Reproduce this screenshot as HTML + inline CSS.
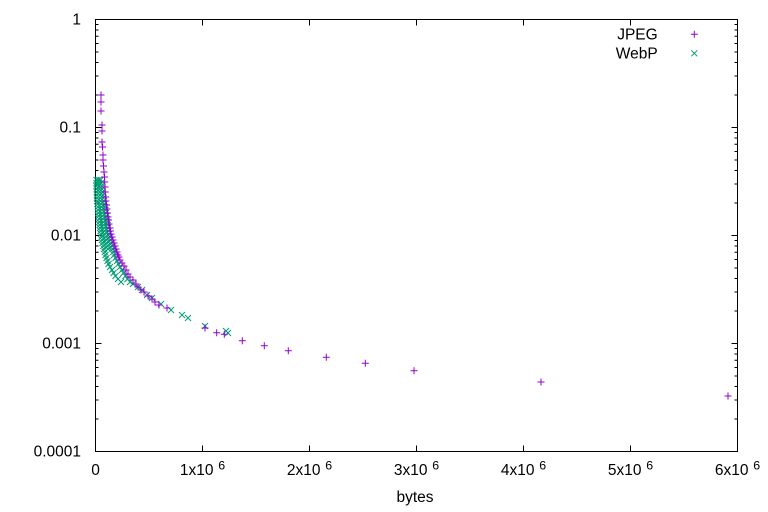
<!DOCTYPE html>
<html><head><meta charset="utf-8"><style>
html,body{margin:0;padding:0;background:#fff;}
svg{display:block;}
text{font-family:"Liberation Sans",Arial,sans-serif;font-size:15.5px;fill:#000;}
</style></head><body>
<svg width="768" height="512" viewBox="0 0 768 512" xmlns="http://www.w3.org/2000/svg">
<defs>
<marker id="mp" markerUnits="userSpaceOnUse" markerWidth="10" markerHeight="10" refX="5" refY="5" overflow="visible">
<path d="M1.5 5h7M5 1.5v7" stroke="#9400d3" stroke-width="1" fill="none"/>
</marker>
<marker id="mx" markerUnits="userSpaceOnUse" markerWidth="10" markerHeight="10" refX="5" refY="5" overflow="visible">
<path d="M2 2l6 6M2 8l6 -6" stroke="#009e73" stroke-width="1" fill="none"/>
</marker>
</defs>
<rect width="768" height="512" fill="#fff"/>
<!-- ticks -->
<g stroke="#000" stroke-width="1" fill="none">
<path d="M95.5 19.5h6M737.5 19.5h-6M95.5 127.5h6M737.5 127.5h-6M95.5 235.5h6M737.5 235.5h-6M95.5 343.5h6M737.5 343.5h-6M95.5 451.5h6M737.5 451.5h-6"/>
<path d="M202.5 451.5v-6M202.5 19.5v6M309.5 451.5v-6M309.5 19.5v6M416.5 451.5v-6M416.5 19.5v6M523.5 451.5v-6M523.5 19.5v6M630.5 451.5v-6M630.5 19.5v6"/>
<path d="
M95.5 94.99h3M737.5 94.99h-3M95.5 76h3M737.5 76h-3M95.5 62.5h3M737.5 62.5h-3M95.5 52.03h3M737.5 52.03h-3M95.5 43.48h3M737.5 43.48h-3M95.5 36.25h3M737.5 36.25h-3M95.5 29.99h3M737.5 29.99h-3M95.5 24.44h3M737.5 24.44h-3
M95.5 202.99h3M737.5 202.99h-3M95.5 184h3M737.5 184h-3M95.5 170.5h3M737.5 170.5h-3M95.5 160.03h3M737.5 160.03h-3M95.5 151.48h3M737.5 151.48h-3M95.5 144.25h3M737.5 144.25h-3M95.5 137.99h3M737.5 137.99h-3M95.5 132.44h3M737.5 132.44h-3
M95.5 310.99h3M737.5 310.99h-3M95.5 292h3M737.5 292h-3M95.5 278.5h3M737.5 278.5h-3M95.5 268.03h3M737.5 268.03h-3M95.5 259.48h3M737.5 259.48h-3M95.5 252.25h3M737.5 252.25h-3M95.5 245.99h3M737.5 245.99h-3M95.5 240.44h3M737.5 240.44h-3
M95.5 418.99h3M737.5 418.99h-3M95.5 400h3M737.5 400h-3M95.5 386.5h3M737.5 386.5h-3M95.5 376.03h3M737.5 376.03h-3M95.5 367.48h3M737.5 367.48h-3M95.5 360.25h3M737.5 360.25h-3M95.5 353.99h3M737.5 353.99h-3M95.5 348.44h3M737.5 348.44h-3"/>
<rect x="95.5" y="19.5" width="642" height="432"/>
</g>
<!-- y labels -->
<g text-anchor="end">
<text x="81" y="24.5">1</text>
<text x="81" y="132.5">0.1</text>
<text x="81" y="240.5">0.01</text>
<text x="81" y="348.5">0.001</text>
<text x="81" y="456.5">0.0001</text>
</g>
<!-- x labels -->
<text x="95.5" y="475" text-anchor="middle">0</text>
<text x="179.9" y="475">1x10<tspan dx="4.7" dy="-5.5" font-size="12.4">6</tspan></text>
<text x="286.9" y="475">2x10<tspan dx="4.7" dy="-5.5" font-size="12.4">6</tspan></text>
<text x="393.9" y="475">3x10<tspan dx="4.7" dy="-5.5" font-size="12.4">6</tspan></text>
<text x="500.9" y="475">4x10<tspan dx="4.7" dy="-5.5" font-size="12.4">6</tspan></text>
<text x="607.9" y="475">5x10<tspan dx="4.7" dy="-5.5" font-size="12.4">6</tspan></text>
<text x="714.9" y="475">6x10<tspan dx="4.7" dy="-5.5" font-size="12.4">6</tspan></text>
<text x="415" y="502" text-anchor="middle">bytes</text>
<!-- legend -->
<text x="657.7" y="39.3" text-anchor="end">JPEG</text>
<text x="657.7" y="58.5" text-anchor="end">WebP</text>
<path d="M690.8 34.3h7M694.3 30.8v7" stroke="#9400d3" stroke-width="1"/>
<path d="M691.3 50.3l6 6M691.3 56.3l6 -6" stroke="#009e73" stroke-width="1"/>
<!-- WebP points -->
<polyline fill="none" stroke="none" marker-start="url(#mx)" marker-mid="url(#mx)" marker-end="url(#mx)" points="
96.5,180 100.5,180 98.5,180 96.5,183 101,183 98.7,183 96.5,186 101.5,186 99,186 96.8,189 102,189 99.4,189 96.8,192 102.5,192 99.6,192 97,195 103,195 100,195 97,198 103.5,198 100.2,198 97.2,201 104,201 100.6,201 97.5,204 104.5,204 101,204 97.8,207 105,207 101.4,207 98,210 105.5,210 101.8,210 98.3,213 106,213 102.1,213 98.6,216 106.5,216 102.5,216 99,219 107,219 103,219 99.3,222 107.3,222 103.3,222 99.7,225 107.7,225 103.7,225 100,228 108,228 104,228 100.5,231 108.5,231 104.5,231 101,234 109,234 105,234 101.5,237 110,237 105.7,237 102,240 110.5,240 106.2,240 102.5,243 111,243 106.8,243 103.3,246 112,246 107.6,246 104,249 112.5,249 108.2,249 104.8,252 113.3,252 105.5,255 114,255 106.5,258 115.5,258 107.5,261 117,261 108.5,264 118.5,264 110,267 120,267 112,270 122,270 113.5,273 123.5,273 115.5,276 125.5,276 118,279 127.5,279 121,282 130,282 133,284 138,287 142,290 147,295 152,298 161,304 171,310 182,315 188,318 205,326 226,331 228,333"/>
<!-- JPEG points -->
<polyline fill="none" stroke="none" marker-start="url(#mp)" marker-mid="url(#mp)" marker-end="url(#mp)" points="
101,95 101,102 101,111 102,125 102,131 102,142 102.5,147 103,155 103,160 103.5,166 104,172 104.5,177 104.7,182 105,187 105.3,192 105.7,197 106,201 106.5,205 107,209 107.5,213 108,217 108.5,220 109,224 110,228 110.5,231 111,234 112,237 113,240 114,243 115,246 116,249 117,252 118,255 119,257 120,260 122,263 124,266 126,270 128,274 130,277 133,280 136,284 138,287 141,290 144,292 148,296 152,299 155,302 159,305 167,308 205,328 216.7,332.7 224.3,334.3 242.3,340.7 264.3,345.7 288.3,350.7 326.3,357.3 365.3,363.3 414,370.7 541,382 728,396"/>
</svg>
</body></html>
